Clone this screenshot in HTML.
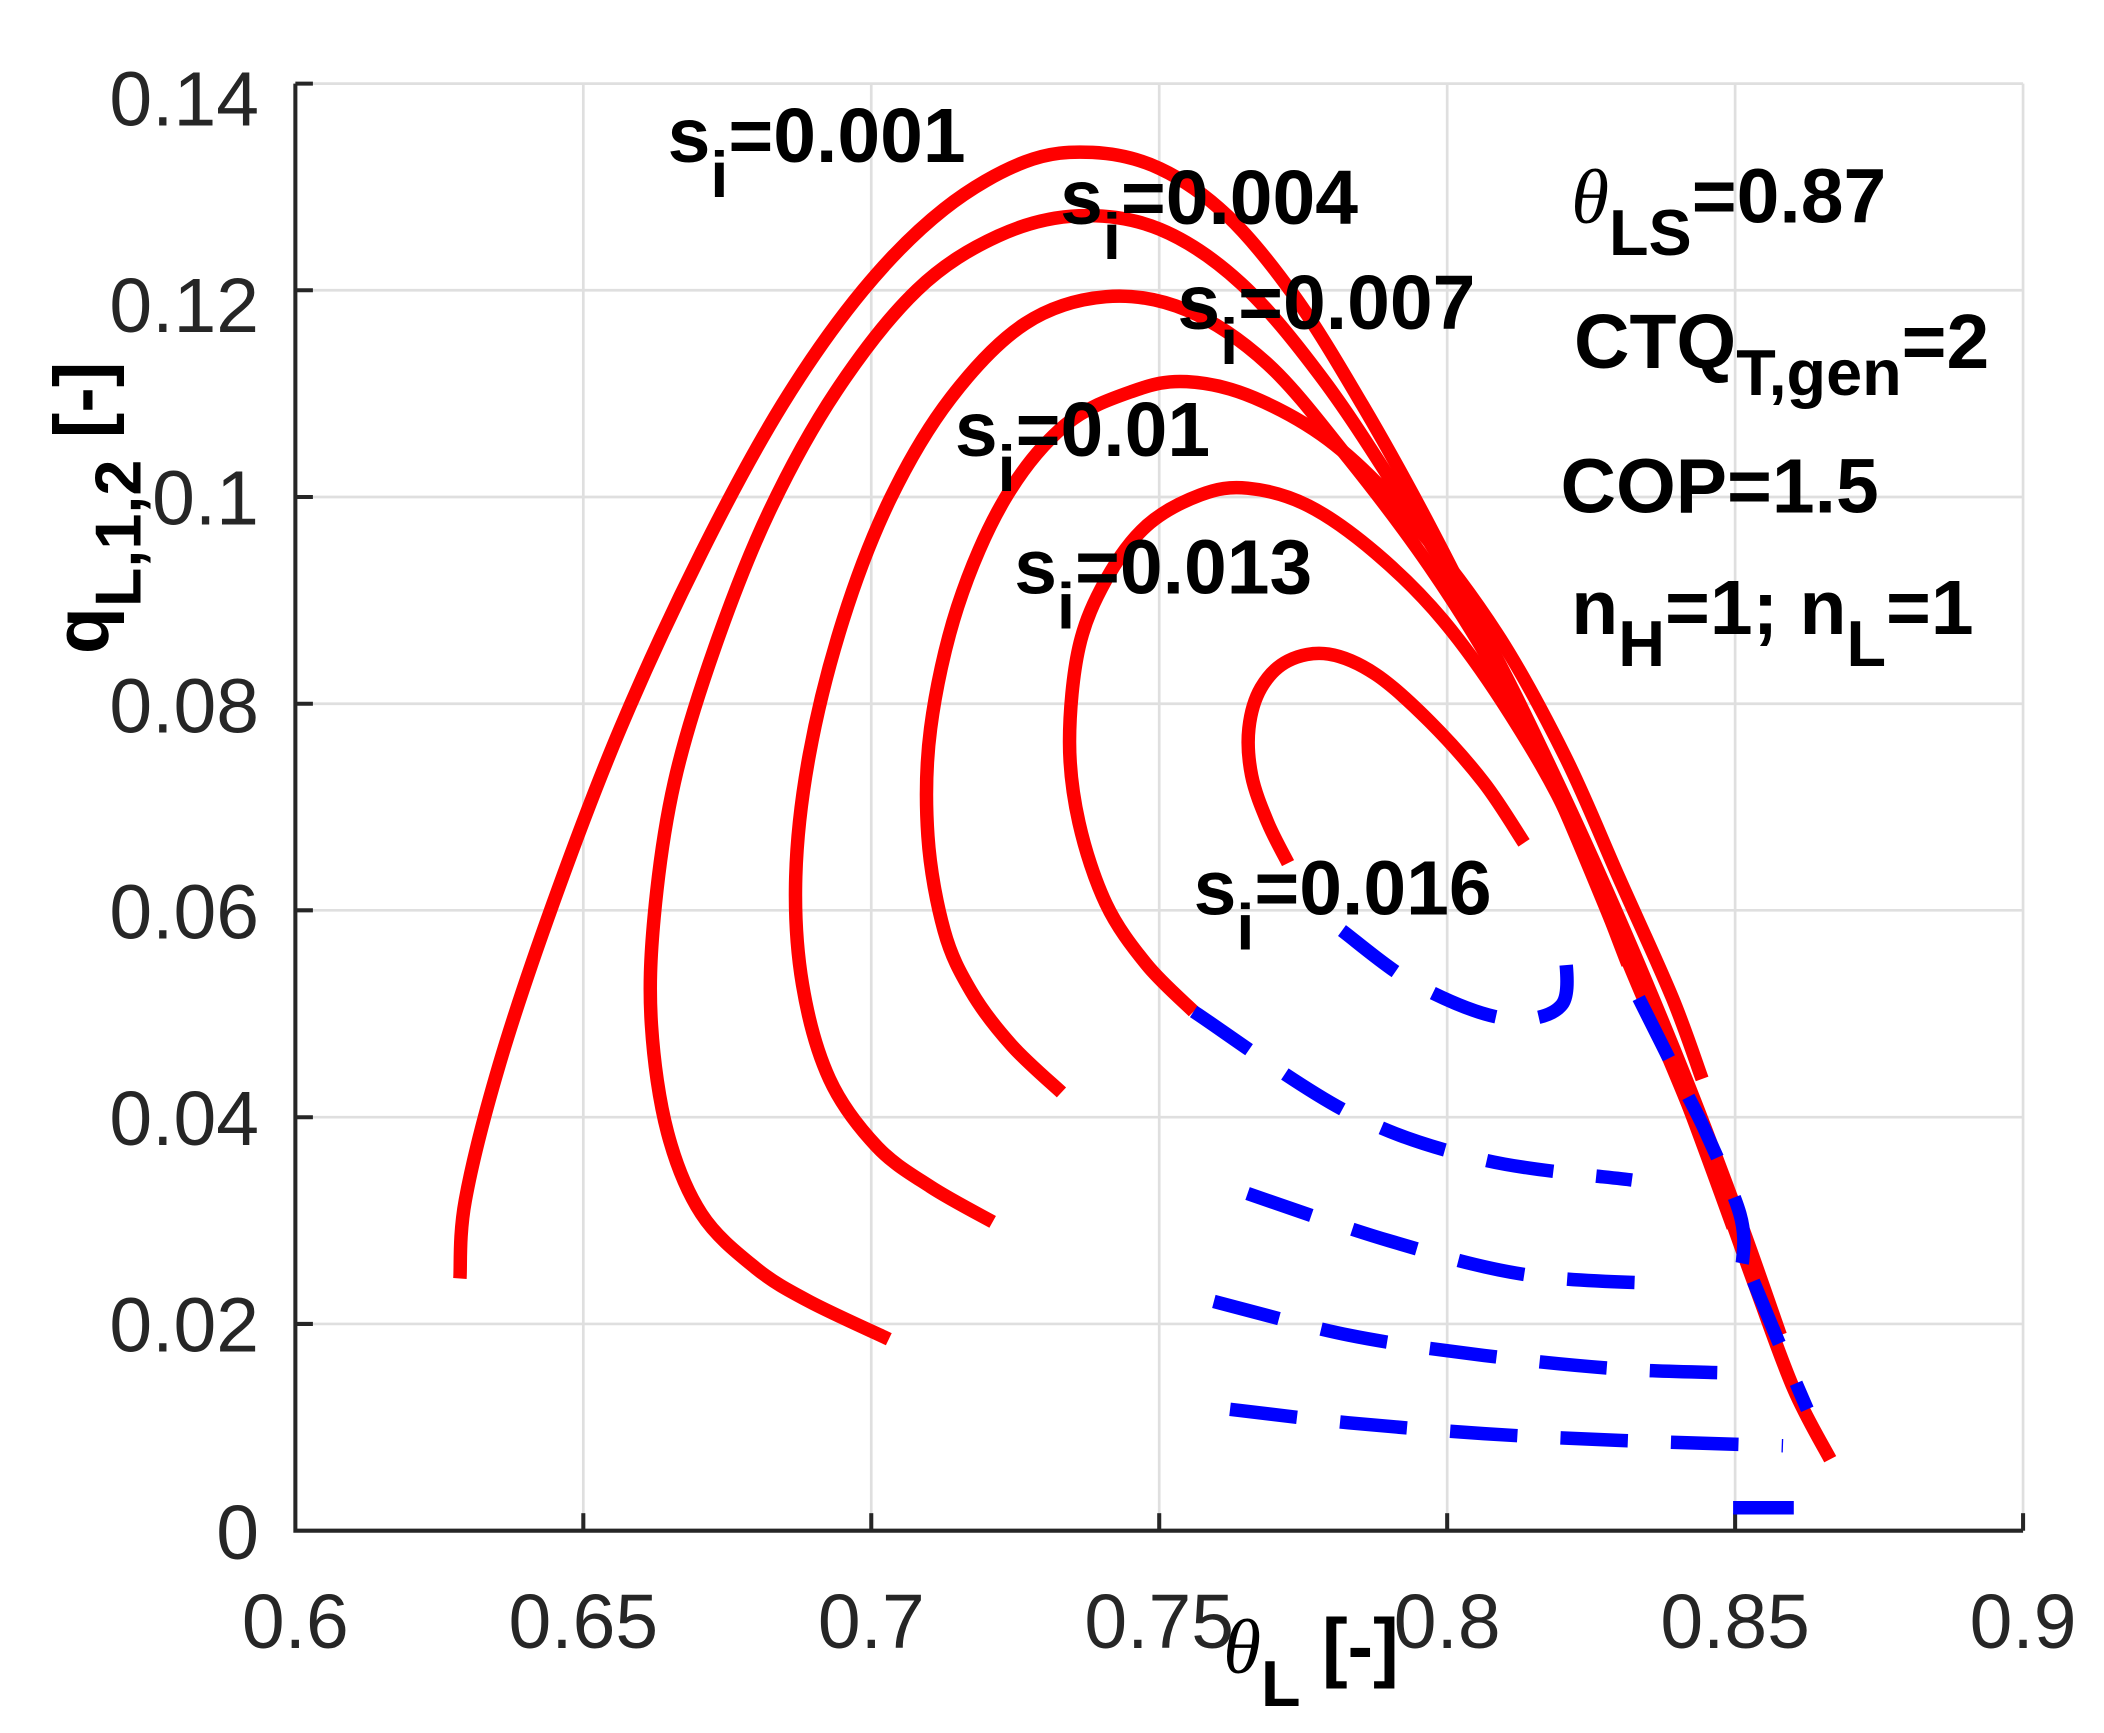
<!DOCTYPE html>
<html><head><meta charset="utf-8"><style>html,body{margin:0;padding:0;background:#fff}svg{display:block}</style></head>
<body>
<svg id="s" width="2104" height="1733" viewBox="0 0 1560 1285" preserveAspectRatio="none" xmlns="http://www.w3.org/2000/svg">
<rect width="1560" height="1285" fill="#fff"/>
<g stroke="#dfdfdf" stroke-width="2">
<line x1="432.5" y1="62" x2="432.5" y2="1135"/><line x1="646" y1="62" x2="646" y2="1135"/><line x1="859.5" y1="62" x2="859.5" y2="1135"/><line x1="1073" y1="62" x2="1073" y2="1135"/><line x1="1286.5" y1="62" x2="1286.5" y2="1135"/><line x1="1500" y1="62" x2="1500" y2="1135"/>
<line x1="219" y1="62" x2="1500" y2="62"/><line x1="219" y1="215.2" x2="1500" y2="215.2"/><line x1="219" y1="368.5" x2="1500" y2="368.5"/><line x1="219" y1="521.8" x2="1500" y2="521.8"/><line x1="219" y1="675" x2="1500" y2="675"/><line x1="219" y1="828.4" x2="1500" y2="828.4"/><line x1="219" y1="981.7" x2="1500" y2="981.7"/>
</g>
<g stroke="#262626" stroke-width="3" fill="none">
<polyline points="219,62 219,1135 1500,1135"/>
<line x1="432.5" y1="1135" x2="432.5" y2="1122"/><line x1="646" y1="1135" x2="646" y2="1122"/><line x1="859.5" y1="1135" x2="859.5" y2="1122"/><line x1="1073" y1="1135" x2="1073" y2="1122"/><line x1="1286.5" y1="1135" x2="1286.5" y2="1122"/><line x1="1500" y1="1135" x2="1500" y2="1122"/>
<line x1="219" y1="62" x2="232" y2="62"/><line x1="219" y1="215.2" x2="232" y2="215.2"/><line x1="219" y1="368.5" x2="232" y2="368.5"/><line x1="219" y1="521.8" x2="232" y2="521.8"/><line x1="219" y1="675" x2="232" y2="675"/><line x1="219" y1="828.4" x2="232" y2="828.4"/><line x1="219" y1="981.7" x2="232" y2="981.7"/>
</g>
<g font-family="Liberation Sans, sans-serif" font-size="57" fill="#262626">
<g text-anchor="end"><text x="192" y="93">0.14</text><text x="192" y="246">0.12</text><text x="192" y="389">0.1</text><text x="192" y="543">0.08</text><text x="192" y="696">0.06</text><text x="192" y="849">0.04</text><text x="192" y="1002">0.02</text><text x="192" y="1156">0</text></g>
<g text-anchor="middle"><text x="219" y="1222">0.6</text><text x="432.5" y="1222">0.65</text><text x="646" y="1222">0.7</text><text x="859.5" y="1222">0.75</text><text x="1073" y="1222">0.8</text><text x="1286.5" y="1222">0.85</text><text x="1500" y="1222">0.9</text></g>
</g>
<g fill="none" stroke="#f00" stroke-width="10" stroke-linejoin="round" class="sm">
<polyline points="341,948 345,890 370,790 410,670 460,540 520,410 580,300 640,215 700,155 760,120 810,113 860,125 910,160 960,220 1010,300 1060,390 1110,490 1160,600 1210,720 1260,840 1300,950 1330,1030 1357,1082"/>
<polyline points="659,993 600,965 560,940 520,900 495,840 483,760 485,680 500,580 530,480 570,380 620,290 680,215 740,175 800,160 860,170 920,210 980,280 1040,370 1100,470 1150,570 1200,680 1250,800 1290,905 1320,990"/>
<polyline points="736,906 690,880 650,850 615,800 595,730 590,650 600,560 625,460 660,370 705,295 760,240 820,220 880,230 940,270 1000,340 1060,420 1110,500 1160,600 1210,715 1250,815 1285,910"/>
<polyline points="787,810 750,775 720,735 700,690 688,620 690,540 710,450 745,370 790,315 840,290 880,283 930,295 990,330 1050,390 1110,470 1160,560 1200,650 1240,740 1262,800"/>
<polyline points="885,750 850,715 820,670 800,610 793,550 800,480 820,430 850,390 890,367 925,362 970,375 1020,410 1070,460 1120,530 1165,610 1207,715"/>
<polyline points="955,640 940,610 928,575 926,540 935,510 955,490 985,485 1020,500 1060,535 1100,580 1130,625"/>
</g>
<g fill="none" stroke="#00f" stroke-width="10" stroke-dasharray="50,32" class="sm">
<polyline points="995,690 1050,730 1115,755 1158,745 1160,700"/>
<polyline points="885,750 1000,825 1100,860 1210,875"/>
<polyline points="1215,740 1245,800 1265,840 1290,900 1292,935 1285,948"/>
<polyline points="925,885 1030,920 1130,945 1235,952"/>
<polyline points="900,965 1000,990 1100,1005 1200,1015 1282,1018"/>
<polyline points="1300,950 1325,1010 1340,1045"/>
<polyline points="912,1045 1000,1055 1100,1063 1200,1068 1322,1072"/>
<polyline points="1285,1118 1330,1118"/>
</g>
<g font-family="Liberation Sans, sans-serif" font-size="57" font-weight="bold" fill="#000">
<text x="495" y="120">s<tspan dy="26" font-size="48">i</tspan><tspan dy="-26">=0.001</tspan></text>
<text x="786" y="166">s<tspan dy="26" font-size="48">i</tspan><tspan dy="-26">=0.004</tspan></text>
<text x="873" y="244">s<tspan dy="26" font-size="48">i</tspan><tspan dy="-26">=0.007</tspan></text>
<text x="708" y="338">s<tspan dy="26" font-size="48">i</tspan><tspan dy="-26">=0.01</tspan></text>
<text x="752" y="440">s<tspan dy="26" font-size="48">i</tspan><tspan dy="-26">=0.013</tspan></text>
<text x="885" y="678">s<tspan dy="26" font-size="48">i</tspan><tspan dy="-26">=0.016</tspan></text>
<text x="1165" y="165"><tspan font-family="Liberation Serif, serif" font-style="italic" font-weight="normal">θ</tspan><tspan dy="24" font-size="48">LS</tspan><tspan dy="-24">=0.87</tspan></text>
<text x="1167" y="273">CTQ<tspan dy="20" font-size="48">T,gen</tspan><tspan dy="-20">=2</tspan></text>
<text x="1157" y="380">COP=1.5</text>
<text x="1165" y="470">n<tspan dy="24" font-size="48">H</tspan><tspan dy="-24">=1; n</tspan><tspan dy="24" font-size="48">L</tspan><tspan dy="-24">=1</tspan></text>
<text x="907" y="1240"><tspan font-family="Liberation Serif, serif" font-style="italic" font-weight="normal">θ</tspan><tspan dy="25" font-size="48">L</tspan><tspan dy="-25"> [-]</tspan></text>
<text transform="translate(80,485) rotate(-90)">q<tspan dy="24" font-size="48">L,1,2</tspan><tspan dy="-24"> [-]</tspan></text>
</g>
</svg>
<script>
(function(){
var ns="http://www.w3.org/2000/svg";
document.querySelectorAll('.sm polyline').forEach(function(pl){
 var p=pl.getAttribute('points').trim().split(/\s+/).map(function(s){return s.split(',').map(Number);});
 if(p.length<3)return;
 var d='M'+p[0][0]+','+p[0][1];
 for(var i=0;i<p.length-1;i++){
  var p0=p[i-1]||p[i],p1=p[i],p2=p[i+1],p3=p[i+2]||p2;
  var c1=[p1[0]+(p2[0]-p0[0])/6,p1[1]+(p2[1]-p0[1])/6],c2=[p2[0]-(p3[0]-p1[0])/6,p2[1]-(p3[1]-p1[1])/6];
  d+=' C'+c1[0].toFixed(1)+','+c1[1].toFixed(1)+' '+c2[0].toFixed(1)+','+c2[1].toFixed(1)+' '+p2[0]+','+p2[1];
 }
 var path=document.createElementNS(ns,'path');path.setAttribute('d',d);
 pl.parentNode.replaceChild(path,pl);
});
})();
</script>
</body></html>
